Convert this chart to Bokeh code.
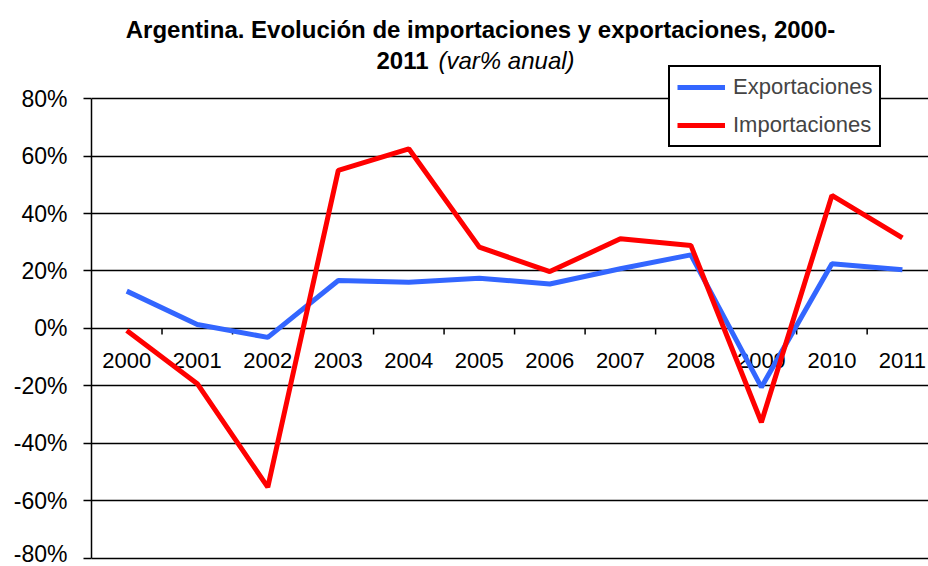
import math
from bokeh.plotting import figure
from bokeh.models import Range1d, PrintfTickFormatter, Label, Legend, LegendItem, ColumnDataSource, FixedTicker
from bokeh.core.properties import value
from bokeh.embed import file_html
from bokeh.resources import INLINE

years = ["2000", "2001", "2002", "2003", "2004", "2005", "2006", "2007", "2008", "2009", "2010", "2011"]
exportaciones = [13.0, 1.4, -3.1, 16.7, 16.1, 17.5, 15.5, 20.8, 25.6, -20.4, 22.5, 20.4]
importaciones = [-0.7, -19.2, -55.2, 55.0, 62.5, 28.3, 19.8, 31.2, 28.9, -32.6, 46.3, 31.5]
y_ticks = [-80, -60, -40, -20, 0, 20, 40, 60, 80]

FONT = "Liberation Sans"
xs = list(range(len(years)))
boundaries = [i + 0.5 for i in xs]

p = figure(width=928, height=566, output_backend="svg", toolbar_location=None,
           x_range=Range1d(-0.5, 11.37), y_range=Range1d(-80.7, 114.09),
           min_border_left=91, min_border_right=0, min_border_top=0, min_border_bottom=6)
p.outline_line_color = None
p.xaxis.visible = False
p.xgrid.visible = False

p.ygrid.ticker = FixedTicker(ticks=y_ticks)
p.ygrid.grid_line_color = "black"
p.ygrid.grid_line_width = 1.4
p.yaxis.ticker = FixedTicker(ticks=y_ticks)
p.yaxis.bounds = (y_ticks[0], y_ticks[-1])
p.yaxis.formatter = PrintfTickFormatter(format="%d%%")
p.yaxis.axis_line_color = "black"
p.yaxis.axis_line_width = 1.5
p.yaxis.major_tick_line_color = "black"
p.yaxis.major_tick_line_width = 1.5
p.yaxis.major_tick_out = 8
p.yaxis.major_tick_in = 0
p.yaxis.minor_tick_line_color = None
p.yaxis.major_label_text_font = FONT
p.yaxis.major_label_text_font_size = "23px"
p.yaxis.major_label_text_color = "black"
p.yaxis.major_label_standoff = 16

# category separator ticks on the zero line
p.ray(x=boundaries, y=[0] * len(boundaries), length=6, length_units="screen",
      angle=-math.pi / 2, line_color="black", line_width=1.5)

# year labels below the zero line
p.text(x=xs, y=[0] * len(xs), text=years, text_font=value(FONT), text_font_size="22px",
       text_align="center", text_baseline="middle", y_offset=32, text_color="black")

src = ColumnDataSource(dict(x=xs, exp=exportaciones, imp=importaciones))
r_exp = p.line("x", "exp", source=src, line_color="#3366FF", line_width=5)
r_imp = p.line("x", "imp", source=src, line_color="#FF0000", line_width=5)

legend = Legend(items=[LegendItem(label="Exportaciones", renderers=[r_exp]),
                       LegendItem(label="Importaciones", renderers=[r_imp])],
                location=(577, 413))
legend.border_line_color = "black"
legend.border_line_width = 2
legend.border_line_alpha = 1
legend.background_fill_color = "white"
legend.background_fill_alpha = 1
legend.label_text_font = FONT
legend.label_text_font_size = "22px"
legend.glyph_width = 48
legend.glyph_height = 20
legend.label_height = 20
legend.spacing = 12
legend.padding = 7
legend.margin = 0
legend.label_standoff = 8
p.add_layout(legend, "center")

t1 = Label(x=389, y=531, x_units="screen", y_units="screen",
           text="Argentina. Evolución de importaciones y exportaciones, 2000-",
           text_font=FONT, text_font_size="24px", text_font_style="bold",
           text_align="center", text_baseline="middle", text_color="black")
t2a = Label(x=337, y=500, x_units="screen", y_units="screen", text="2011",
            text_font=FONT, text_font_size="24px", text_font_style="bold",
            text_align="right", text_baseline="middle", text_color="black")
t2b = Label(x=347, y=500, x_units="screen", y_units="screen", text="(var% anual)",
            text_font=FONT, text_font_size="24px", text_font_style="italic",
            text_align="left", text_baseline="middle", text_color="black")
for t in (t1, t2a, t2b):
    p.add_layout(t)

open("out.html", "w").write(file_html(p, INLINE))
